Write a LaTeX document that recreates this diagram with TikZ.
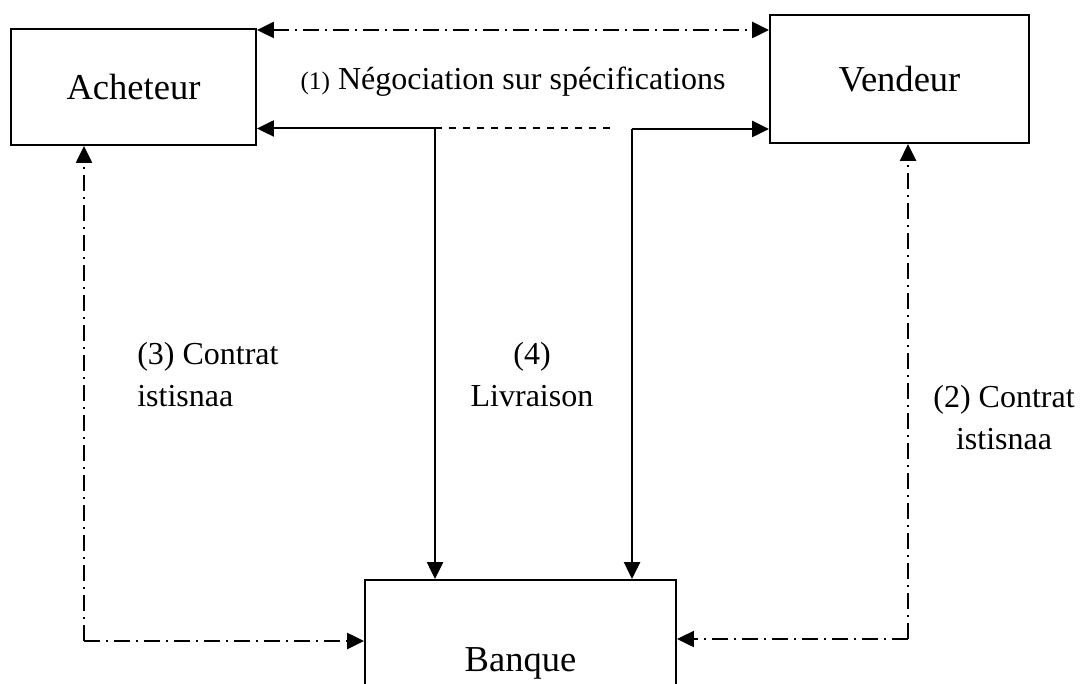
\documentclass[tikz,border=0pt]{standalone}
\usepackage{fontspec}
\setmainfont{Liberation Serif}
\usetikzlibrary{arrows.meta}
\def\px{0.75pt}
\tikzset{
  party/.style={draw, line width=1.7pt, inner sep=0pt,
    font=\fontsize{27.4}{32}\selectfont},
  conn/.style={line width=1.5pt},
  dashdot/.style={conn, dash pattern=on 12pt off 4.5pt on 1.5pt off 4.5pt},
  head/.tip={Triangle[length=12.5pt,width=12pt]},
  tip/.style={-head},
  label/.style={font=\fontsize{24}{31.5}\selectfont, inner sep=0pt}
}
\begin{document}
\begin{tikzpicture}[x=0.75pt,y=-0.75pt]
\useasboundingbox (0,0) rectangle (1082,684);
% the three parties
\node[party, minimum width=245*\px, minimum height=116*\px] (ach) at (133.5,87) {Acheteur};
\node[party, minimum width=259*\px, minimum height=128*\px] (ven) at (899.5,79) {Vendeur};
\node[party, minimum width=311*\px, minimum height=166*\px] (ban) at (520.5,663) {Banque};
% junction points on the delivery line
\coordinate (j1) at (435,128.5);
\coordinate (j2) at (632,129);
\coordinate (d2) at (614,128.5);
% (1) negotiation
\draw[dashdot, head-head] (ach.east |- 0,30) -- (ven.west |- 0,30);
\node[label] (neg) at (513,82) {{\fontsize{19}{22}\selectfont(1)} Négociation sur spécifications};
% (4) delivery
\draw[conn, tip] (j1) -- (ach.east |- j1);
\draw[conn, tip] (j2) -- (ven.west |- j2);
\draw[conn, dash pattern=on 5.5pt off 5pt] (j1) -- (d2);
\draw[conn, tip] (j1) -- (j1 |- ban.north);
\draw[conn, tip] (j2) -- (j2 |- ban.north);
\node[label, align=center] (liv) at (532,375) {(4)\\Livraison};
% (3) contract between buyer and bank
\coordinate (c3) at (84,641);
\draw[dashdot, tip] (c3) -- (c3 |- ach.south);
\draw[dashdot, tip] (c3) -- (ban.west |- c3);
\node[label, align=left, anchor=west] (k3) at (137,375) {(3) Contrat\\istisnaa};
% (2) contract between seller and bank
\coordinate (c2) at (908,639);
\draw[dashdot, tip] (c2) -- (c2 |- ven.south);
\draw[dashdot, tip] (c2) -- (ban.east |- c2);
\node[label, align=center] (k2) at (1004,418) {(2) Contrat\\istisnaa};
\end{tikzpicture}
\end{document}
